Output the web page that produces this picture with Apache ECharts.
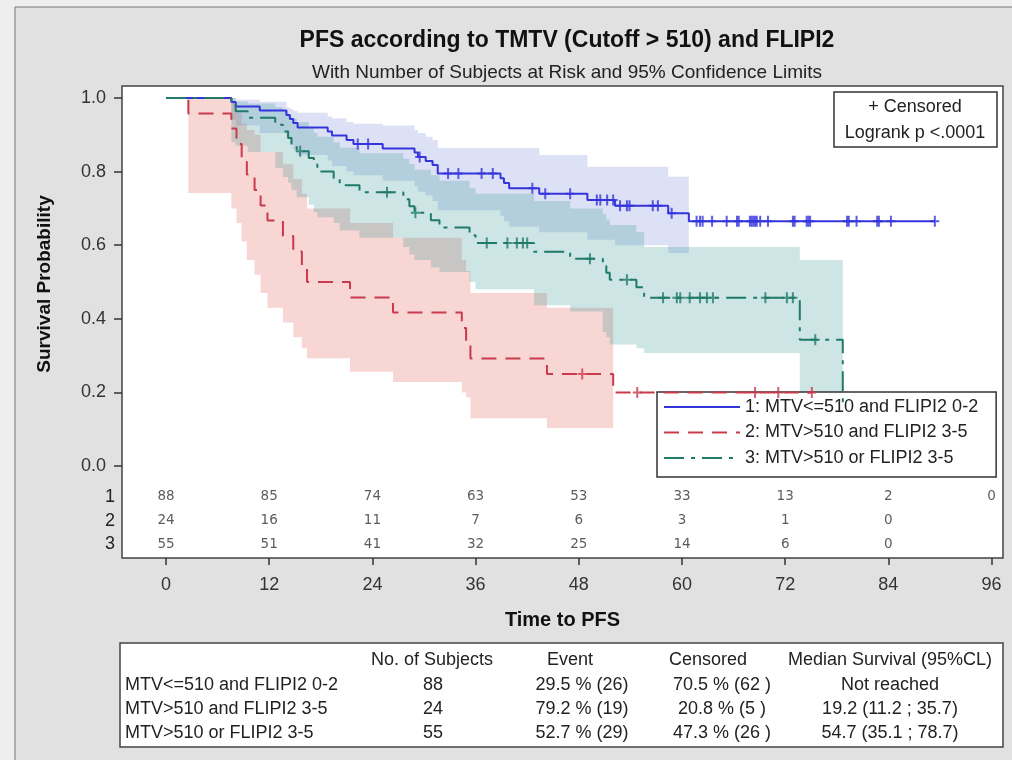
<!DOCTYPE html>
<html>
<head>
<meta charset="utf-8">
<title>PFS according to TMTV (Cutoff > 510) and FLIPI2</title>
<script src="https://cdn.jsdelivr.net/npm/echarts@6/dist/echarts.min.js"></script>
<style>
  html, body { margin: 0; padding: 0; background: #eeeeee; }
  #kmChart { width: 1012px; height: 760px; }
</style>
</head>
<body>
<div id="kmChart"></div>
<script>
// 刻度
var timeTicks = [0, 12, 24, 36, 48, 60, 72, 84, 96];
var probTicks = [0, 0.2, 0.4, 0.6, 0.8, 1.0];

var groupNames = ['1: MTV<=510 and FLIPI2 0-2', '2: MTV>510 and FLIPI2 3-5', '3: MTV>510 or FLIPI2 3-5'];

// group 1 : MTV<=510 and FLIPI2 0-2
var g1Time  = [0, 7.6, 8.1, 10.9, 14.0, 14.4, 14.8, 15.3, 18.8, 19.3, 21.0, 21.8, 25.2, 28.9, 29.3, 30.2, 31.0, 31.6, 38.9, 39.3, 39.9, 43.4, 49.0, 52.2, 58.4, 60.8];
var g1Surv  = [1.0, 0.989, 0.977, 0.966, 0.954, 0.943, 0.932, 0.920, 0.909, 0.898, 0.886, 0.875, 0.863, 0.852, 0.840, 0.829, 0.818, 0.795, 0.782, 0.769, 0.755, 0.740, 0.723, 0.707, 0.687, 0.665];
var g1Lower = [1.0, 0.94, 0.925, 0.905, 0.89, 0.875, 0.86, 0.845, 0.83, 0.815, 0.80, 0.79, 0.775, 0.76, 0.745, 0.735, 0.72, 0.695, 0.68, 0.665, 0.65, 0.635, 0.615, 0.60, 0.579, 0.55];
var g1Upper = [1.0, 1.0, 0.995, 0.99, 0.975, 0.97, 0.965, 0.96, 0.95, 0.945, 0.935, 0.93, 0.925, 0.913, 0.905, 0.895, 0.885, 0.864, 0.864, 0.864, 0.864, 0.845, 0.813, 0.813, 0.786, 0.77];
var g1Cens  = [22.3, 23.5, 29.5, 32.8, 34.0, 36.7, 38.0, 42.6, 44.1, 47.0, 50.1, 50.5, 51.3, 52.0, 52.8, 53.6, 53.9, 56.6, 57.2, 58.8,
               61.7, 62.1, 62.4, 63.5, 65.2, 66.4, 66.6, 67.9, 68.1, 68.3, 68.5, 68.7, 69.1, 70.0, 72.9, 73.1, 74.5, 74.7, 74.9,
               79.2, 79.4, 80.3, 82.7, 82.9, 84.3, 89.4];

// group 2 : MTV>510 and FLIPI2 3-5
var g2Time  = [0, 2.6, 7.6, 8.2, 8.8, 9.4, 10.3, 11.0, 11.8, 13.6, 14.8, 15.8, 16.4, 21.4, 26.4, 34.4, 34.9, 35.4, 44.3, 52.0];
var g2Surv  = [1.0, 0.958, 0.917, 0.875, 0.833, 0.792, 0.750, 0.708, 0.667, 0.625, 0.583, 0.542, 0.500, 0.458, 0.417, 0.375, 0.333, 0.292, 0.250, 0.200];
var g2Lower = [1.0, 0.742, 0.70, 0.66, 0.61, 0.56, 0.52, 0.47, 0.43, 0.39, 0.35, 0.32, 0.293, 0.256, 0.228, 0.20, 0.187, 0.13, 0.103, 0.07];
var g2Upper = [1.0, 1.0, 0.99, 0.96, 0.93, 0.913, 0.90, 0.853, 0.853, 0.82, 0.78, 0.74, 0.70, 0.66, 0.62, 0.56, 0.53, 0.47, 0.43, 0.40];
var g2Cens  = [48.4, 54.8, 68.5, 71.2, 75.1];

// group 3 : MTV>510 or FLIPI2 3-5
var g3Time  = [0, 7.6, 8.1, 9.5, 12.7, 13.6, 14.2, 14.6, 15.2, 16.6, 17.2, 17.6, 19.5, 20.2, 22.5, 27.6, 28.3, 28.9, 30.8, 31.8,
               35.3, 36.0, 42.8, 47.0, 50.8, 51.2, 51.6, 54.7, 55.6, 73.7, 78.7];
var g3Surv  = [1.0, 0.982, 0.964, 0.946, 0.927, 0.909, 0.891, 0.873, 0.855, 0.837, 0.819, 0.800, 0.782, 0.763, 0.744, 0.725, 0.706, 0.688, 0.668, 0.648,
               0.627, 0.606, 0.582, 0.563, 0.544, 0.525, 0.506, 0.486, 0.457, 0.343, 0.171];
var g3Lower = [1.0, 0.88, 0.87, 0.853, 0.81, 0.785, 0.77, 0.75, 0.73, 0.71, 0.69, 0.676, 0.66, 0.64, 0.62, 0.595, 0.575, 0.56, 0.54, 0.527,
               0.50, 0.48, 0.437, 0.42, 0.364, 0.35, 0.33, 0.32, 0.307, 0.18, 0.10];
var g3Upper = [1.0, 1.0, 0.99, 0.985, 0.975, 0.965, 0.955, 0.945, 0.935, 0.92, 0.905, 0.895, 0.88, 0.865, 0.85, 0.835, 0.82, 0.805, 0.79, 0.775,
               0.755, 0.74, 0.72, 0.70, 0.685, 0.67, 0.655, 0.635, 0.595, 0.56, 0.50];
var g3Cens  = [15.6, 25.7, 29.0, 37.3, 39.7, 40.8, 41.5, 42.0, 49.3, 53.6, 57.8, 59.4, 59.8, 60.9, 62.1, 62.9, 63.6, 69.7, 72.2, 72.9, 75.5];

// number at risk
var riskTimes = [0, 12, 24, 36, 48, 60, 72, 84, 96];
var risk1 = [88, 85, 74, 63, 53, 33, 13, 2, 0];
var risk2 = [24, 16, 11, 7, 6, 3, 1, 0, null];
var risk3 = [55, 51, 41, 32, 25, 14, 6, 0, null];

// summary table
var tblHeader    = ['', 'No. of Subjects', 'Event', 'Censored', 'Median Survival (95%CL)'];
var tblGroups    = ['MTV<=510 and FLIPI2 0-2', 'MTV>510 and FLIPI2 3-5', 'MTV>510 or FLIPI2 3-5'];
var tblSubjects  = ['88', '24', '55'];
var tblEvent     = ['29.5 % (26)', '79.2 % (19)', '52.7 % (29)'];
var tblCensored  = ['70.5 % (62 )', '20.8 % (5 )', '47.3 % (26 )'];
var tblMedian    = ['Not reached', '19.2 (11.2 ; 35.7)', '54.7 (35.1 ; 78.7)'];

// ---- 样式 / 布局 ----
var FONT = 'Liberation Sans, Arial, sans-serif';
var lineColors = ['#3434dc', '#c93a4c', '#1f7a68'];
var bandColors = ['rgba(100,120,210,0.22)', 'rgba(228,118,112,0.30)', 'rgba(55,150,150,0.25)'];
var lineDash = ['solid', [15, 9], [20, 7, 4, 7]];
var riskRowY = [-0.084, -0.149, -0.212];
var plusPath = 'path://M3.5,0h2v11h-2z M0,4.5h9v2h-9z';

var groups = [
  {time: g1Time, surv: g1Surv, lower: g1Lower, upper: g1Upper, cens: g1Cens, risk: risk1},
  {time: g2Time, surv: g2Surv, lower: g2Lower, upper: g2Upper, cens: g2Cens, risk: risk2},
  {time: g3Time, surv: g3Surv, lower: g3Lower, upper: g3Upper, cens: g3Cens, risk: risk3}
];

function survAt(g, t) {
  var s = g.surv[0];
  for (var i = 0; i < g.time.length; i++) {
    if (g.time[i] <= t) s = g.surv[i];
  }
  return s;
}

function bandPoints(api, g) {
  var n = g.time.length, pts = [], start = 0;
  while (start < n - 1 && g.lower[start] >= g.upper[start]) start++;
  for (var i = start; i < n - 1; i++) {
    pts.push(api.coord([g.time[i], g.upper[i]]));
    pts.push(api.coord([g.time[i + 1], g.upper[i]]));
  }
  for (var j = n - 2; j >= start; j--) {
    pts.push(api.coord([g.time[j + 1], g.lower[j]]));
    pts.push(api.coord([g.time[j], g.lower[j]]));
  }
  return pts;
}

var series = [];
// 置信带
groups.forEach(function (g, k) {
  series.push({
    name: 'band' + k,
    type: 'custom',
    z: 1,
    silent: true,
    data: [[0, 0]],
    renderItem: function (params, api) {
      return {type: 'polygon', shape: {points: bandPoints(api, g)}, style: {fill: bandColors[k]}};
    }
  });
});
// KM 曲线 (red, blue, green 叠放顺序)
[1, 0, 2].forEach(function (k) {
  var g = groups[k];
  var data = g.time.map(function (t, i) { return [t, g.surv[i]]; });
  var lastT = Math.max.apply(null, g.cens.concat([g.time[g.time.length - 1]]));
  if (lastT > g.time[g.time.length - 1]) data.push([lastT, g.surv[g.surv.length - 1]]);
  series.push({
    name: groupNames[k],
    type: 'line',
    step: 'end',
    z: 5,
    symbol: 'none',
    color: lineColors[k],
    lineStyle: {width: 2, type: lineDash[k], color: lineColors[k]},
    data: data
  });
  series.push({
    name: 'cens' + k,
    type: 'scatter',
    z: 6,
    symbol: plusPath,
    symbolSize: [9, 11],
    itemStyle: {color: lineColors[k]},
    silent: true,
    data: g.cens.map(function (t) { return [t, survAt(g, t)]; })
  });
});
// number at risk
groups.forEach(function (g, k) {
  var data = [];
  riskTimes.forEach(function (t, i) {
    if (g.risk[i] !== null) data.push([t, riskRowY[k], g.risk[i]]);
  });
  series.push({
    name: 'risk' + k,
    type: 'scatter',
    symbolSize: 1,
    silent: true,
    itemStyle: {color: 'rgba(0,0,0,0)'},
    label: {
      show: true, position: 'inside', color: '#333',
      fontFamily: 'DejaVu Sans', fontSize: 13.5,
      formatter: function (p) { return p.value[2]; }
    },
    data: data
  });
});

// 表格
var tblTop = 643, tblRowY = [660, 685, 709, 733];
var tblColX = [125, 433, 582, 722, 890];
var tblHdrX = [125, 432, 570, 708, 890];
var tblChildren = [{
  type: 'rect', shape: {x: 120, y: tblTop, width: 883, height: 104},
  style: {fill: '#fff', stroke: '#444', lineWidth: 1.5}
}];
function tblText(txt, x, y, align) {
  tblChildren.push({type: 'text', style: {text: txt, x: x, y: y, align: align, verticalAlign: 'middle',
    font: '18px ' + FONT, fill: '#222'}});
}
tblHeader.forEach(function (h, c) { if (h) tblText(h, tblHdrX[c], tblRowY[0], 'center'); });
tblGroups.forEach(function (name, r) {
  var y = tblRowY[r + 1];
  tblText(name, tblColX[0], y, 'left');
  tblText(tblSubjects[r], tblColX[1], y, 'center');
  tblText(tblEvent[r], tblColX[2], y, 'center');
  tblText(tblCensored[r], tblColX[3], y, 'center');
  tblText(tblMedian[r], tblColX[4], y, 'center');
});

var option = {
  animation: false,
  backgroundColor: '#eeeeee',
  title: {
    text: 'PFS according to TMTV (Cutoff > 510) and FLIPI2',
    subtext: 'With Number of Subjects at Risk and 95% Confidence Limits',
    left: 562, top: 24, textAlign: 'center', itemGap: 11,
    textStyle: {fontFamily: FONT, fontSize: 23, fontWeight: 'bold', color: '#111'},
    subtextStyle: {fontFamily: FONT, fontSize: 19, color: '#222'}
  },
  legend: {
    orient: 'vertical',
    left: 657, top: 392,
    data: groupNames,
    backgroundColor: '#fff',
    borderColor: '#333', borderWidth: 1.5, borderRadius: 0,
    padding: [5, 18, 9, 6],
    itemWidth: 76, itemHeight: 14, itemGap: 5.5,
    itemStyle: {opacity: 0},
    textStyle: {fontFamily: FONT, fontSize: 18, color: '#222', lineHeight: 20},
    selectedMode: false
  },
  grid: {
    left: 122, top: 86, width: 881, height: 472,
    show: true, backgroundColor: '#fff', borderColor: '#444', borderWidth: 1.5
  },
  xAxis: {
    type: 'value', min: -5.116, max: 97.33,
    name: 'Time to PFS', nameLocation: 'middle', nameGap: 52,
    nameTextStyle: {fontFamily: FONT, fontSize: 20, fontWeight: 'bold', color: '#111'},
    axisLine: {show: false, onZero: false},
    axisTick: {show: true, length: 7, lineStyle: {color: '#333', width: 1.5}, customValues: timeTicks},
    axisLabel: {fontFamily: FONT, fontSize: 18, color: '#333', margin: 18, customValues: timeTicks},
    splitLine: {show: false}
  },
  yAxis: [{
    type: 'value', min: -0.25, max: 1.0326,
    axisLine: {show: false, onZero: false},
    axisTick: {show: true, length: 8, lineStyle: {color: '#333', width: 1.5}, customValues: probTicks},
    axisLabel: {fontFamily: FONT, fontSize: 18, color: '#333', margin: 16, customValues: probTicks,
      formatter: function (v) { return v.toFixed(1); }},
    splitLine: {show: false}
  }, {
    type: 'value', min: -0.25, max: 1.0326, position: 'left',
    axisLine: {show: false, onZero: false}, axisTick: {show: false}, splitLine: {show: false},
    axisLabel: {fontFamily: FONT, fontSize: 18, color: '#222', margin: 7, customValues: riskRowY,
      formatter: function (v) {
        var best = 0;
        riskRowY.forEach(function (y, i) { if (Math.abs(y - v) < Math.abs(riskRowY[best] - v)) best = i; });
        return String(best + 1);
      }}
  }],
  graphic: [
    {type: 'rect', z: -100, shape: {x: 15, y: 7, width: 1010, height: 770},
      style: {fill: '#e1e1e1', stroke: '#7a7a7a', lineWidth: 1}},
    {type: 'text', rotation: Math.PI / 2, x: 45, y: 284,
      style: {text: 'Survival Probability', align: 'center', verticalAlign: 'middle',
        font: 'bold 19px ' + FONT, fill: '#111'}},
    {type: 'group', z: 10, children: [
      {type: 'rect', shape: {x: 834, y: 92, width: 163, height: 55},
        style: {fill: '#fff', stroke: '#333', lineWidth: 1.5}},
      {type: 'text', style: {text: '+ Censored', x: 915, y: 107, align: 'center', verticalAlign: 'middle',
        font: '18px ' + FONT, fill: '#222'}},
      {type: 'text', style: {text: 'Logrank p <.0001', x: 915, y: 133, align: 'center', verticalAlign: 'middle',
        font: '18px ' + FONT, fill: '#222'}}
    ]},
    {type: 'group', z: 10, children: tblChildren}
  ],
  series: series
};

var chart = echarts.init(document.getElementById('kmChart'));
chart.setOption(option);
</script>
</body>
</html>
